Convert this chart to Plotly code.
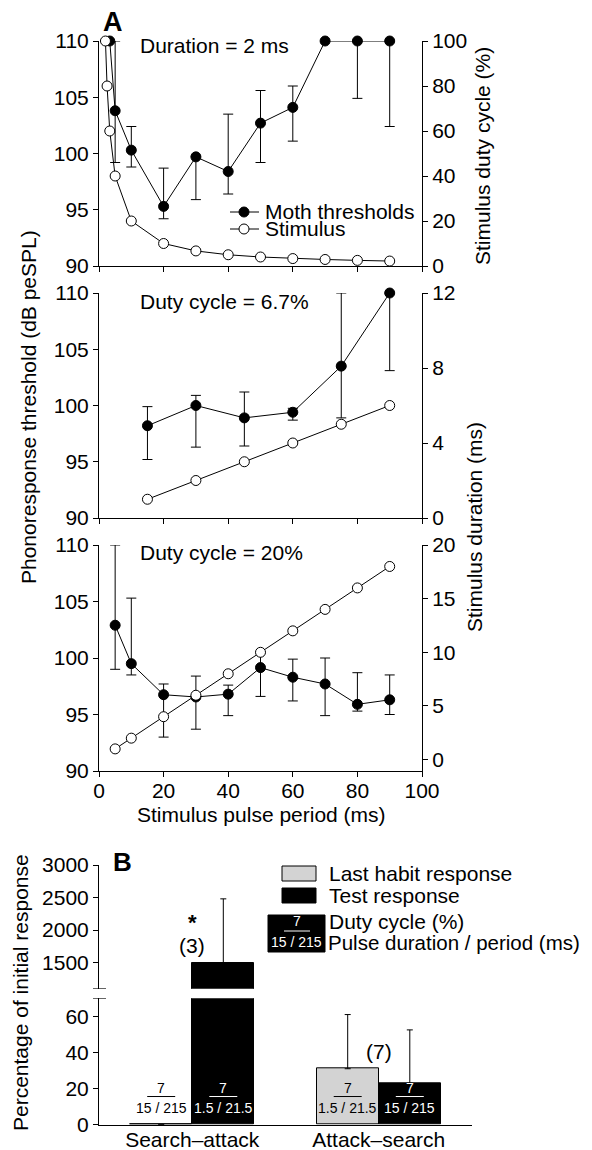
import plotly.graph_objects as go

# ---------------- DATA ----------------
# Panel A, top: duration = 2 ms
a1_period_stim = [2, 2.5, 3.33, 5, 10, 20, 30, 40, 50, 60, 70, 80, 90]
a1_duty = [100, 80, 60, 40, 20, 10, 6.7, 5, 4, 3.3, 2.9, 2.5, 2.2]
a1_period_moth = [3.33, 5, 10, 20, 30, 40, 50, 60, 70, 80, 90]
a1_thresh = [110, 103.8, 100.3, 95.3, 99.7, 98.4, 102.7, 104.1, 110, 110, 110]
a1_lower = [110, 99.2, 98.8, 94.2, 95.9, 96.4, 99.2, 101.1, 110, 104.9, 102.4]
a1_upper = [110, 110, 102.4, 98.7, 99.7, 103.5, 105.6, 106.0, 110, 110, 110]

# Panel A, middle: duty cycle = 6.7 %
a2_period = [15, 30, 45, 60, 75, 90]
a2_duration = [1, 2, 3, 4, 5, 6]
a2_thresh = [98.2, 100.0, 98.9, 99.4, 103.5, 110]
a2_lower = [95.2, 96.3, 96.4, 98.7, 98.9, 103.1]
a2_upper = [99.9, 100.9, 101.2, 99.75, 110, 110]

# Panel A, bottom: duty cycle = 20 %
a3_period = [5, 10, 20, 30, 40, 50, 60, 70, 80, 90]
a3_duration = [1, 2, 4, 6, 8, 10, 12, 14, 16, 18]
a3_thresh = [102.9, 99.5, 96.75, 96.55, 96.8, 99.15, 98.3, 97.7, 95.9, 96.3]
a3_lower = [99.0, 98.5, 93.0, 93.7, 94.9, 96.6, 96.2, 94.9, 95.3, 95.0]
a3_upper = [110, 105.3, 97.7, 98.4, 97.6, 100.5, 99.9, 100.0, 98.7, 98.5]

# Panel B
b_categories = ["Search\u2013attack", "Attack\u2013search"]
b_last_habit = [0, 31]
b_last_habit_upper = [0, 61]
b_test = [1500, 23]
b_test_upper = [2480, 52.5]
b_label_top = ["7", "7"]
b_last_habit_labels = ["15 / 215", "1.5 / 21.5"]
b_test_labels = ["1.5 / 21.5", "15 / 215"]
b_n_labels = ["(3)", "(7)"]

# ---------------- LAYOUT HELPERS ----------------
# The page body has an 8 px margin, so the figure is made 8 px smaller and
# positions are given in window pixels.
OFF = 8
W, H = 592 - OFF, 1150 - OFF
FONT = "Liberation Sans, Arial, Helvetica, sans-serif"
FS = 21


def px(x):
    return (x - OFF) / W


def py(y):
    return 1 - (y - OFF) / H


def plus(vals, upper):
    return [u - v for v, u in zip(vals, upper)]


def minus(vals, lower):
    return [v - l for v, l in zip(vals, lower)]


fig = go.Figure()

filled = dict(mode="lines+markers", line=dict(color="black", width=1),
              marker=dict(size=10, color="black", line=dict(color="black", width=1)),
              cliponaxis=False, showlegend=False)
openm = dict(mode="lines+markers", line=dict(color="black", width=1),
             marker=dict(size=10, color="white", line=dict(color="black", width=1)),
             cliponaxis=False, showlegend=False)


def err(y, lo, up):
    return dict(type="data", symmetric=False, array=plus(y, up), arrayminus=minus(y, lo),
                color="black", thickness=1, width=5)


# Panel A top
fig.add_trace(go.Scatter(x=a1_period_moth, y=a1_thresh, error_y=err(a1_thresh, a1_lower, a1_upper),
                         xaxis="x", yaxis="y", name="Moth thresholds", **filled))
fig.add_trace(go.Scatter(x=a1_period_stim, y=a1_duty, xaxis="x", yaxis="y2", name="Stimulus", **openm))
# Panel A middle
fig.add_trace(go.Scatter(x=a2_period, y=a2_thresh, error_y=err(a2_thresh, a2_lower, a2_upper),
                         xaxis="x2", yaxis="y3", **filled))
fig.add_trace(go.Scatter(x=a2_period, y=a2_duration, xaxis="x2", yaxis="y4", **openm))
# Panel A bottom
fig.add_trace(go.Scatter(x=a3_period, y=a3_thresh, error_y=err(a3_thresh, a3_lower, a3_upper),
                         xaxis="x3", yaxis="y5", **filled))
fig.add_trace(go.Scatter(x=a3_period, y=a3_duration, xaxis="x3", yaxis="y6", **openm))

# Panel B bars (upper and lower segments of broken axis)
BW = 0.333
cat_pos = list(range(len(b_categories)))
for xa, ya in (("x4", "y7"), ("x5", "y8")):
    fig.add_trace(go.Bar(x=cat_pos, y=b_last_habit, width=BW, offset=-BW, xaxis=xa, yaxis=ya,
                         marker=dict(color="#d3d3d3", line=dict(color="black", width=1)),
                         error_y=dict(type="data", symmetric=False, array=plus(b_last_habit, b_last_habit_upper),
                                      arrayminus=[0] * len(b_last_habit), color="black", thickness=1, width=3),
                         showlegend=False, name="Last habit response"))
    fig.add_trace(go.Bar(x=cat_pos, y=b_test, width=BW, offset=0, xaxis=xa, yaxis=ya,
                         marker=dict(color="black", line=dict(color="black", width=1)),
                         error_y=dict(type="data", symmetric=False, array=plus(b_test, b_test_upper),
                                      arrayminus=[0] * len(b_test), color="black", thickness=1, width=3),
                         showlegend=False, name="Test response"))

ax_common = dict(showline=True, linecolor="black", linewidth=1, ticks="outside", ticklen=5,
                 tickcolor="black", tickwidth=1, showgrid=False, zeroline=False, automargin=False,
                 tickfont=dict(family=FONT, size=FS, color="black"))

XA = [px(99), px(422)]
xa_kw = dict(ax_common, domain=XA, range=[0, 100], tickvals=[0, 20, 40, 60, 80, 100])
ya_kw = dict(ax_common, range=[90, 110], tickvals=[90, 95, 100, 105, 110])

fig.update_layout(
    width=W, height=H, margin=dict(l=0, r=0, t=0, b=0, pad=0, autoexpand=False),
    paper_bgcolor="white", plot_bgcolor="white", showlegend=False, bargap=0,
    font=dict(family=FONT, size=FS, color="black"),
    xaxis=dict(xa_kw, anchor="y", showticklabels=False),
    yaxis=dict(ya_kw, domain=[py(266), py(41)], anchor="x"),
    yaxis2=dict(ax_common, overlaying="y", side="right", anchor="x", range=[0, 100],
                tickvals=[0, 20, 40, 60, 80, 100]),
    xaxis2=dict(xa_kw, anchor="y3", showticklabels=False),
    yaxis3=dict(ya_kw, domain=[py(518), py(293)], anchor="x2"),
    yaxis4=dict(ax_common, overlaying="y3", side="right", anchor="x2", range=[0, 12],
                tickvals=[0, 4, 8, 12]),
    xaxis3=dict(xa_kw, anchor="y5", ticklabelstandoff=-4),
    yaxis5=dict(ya_kw, domain=[py(771), py(545)], anchor="x3"),
    yaxis6=dict(ax_common, overlaying="y5", side="right", anchor="x3", range=[-1.06, 20],
                tickvals=[0, 5, 10, 15, 20]),
    xaxis4=dict(domain=[px(99), px(472)], anchor="y7", range=[-0.5, 1.5], visible=False),
    yaxis7=dict(ax_common, domain=[py(988.7), py(865)], anchor="x4", range=[1100, 3000],
                tickvals=[1500, 2000, 2500, 3000]),
    xaxis5=dict(ax_common, domain=[px(99), px(472)], anchor="y8", range=[-0.5, 1.5],
                tickvals=cat_pos, ticktext=b_categories, ticks="", ticklabelstandoff=-4),
    yaxis8=dict(ax_common, domain=[py(1124.7), py(998.3)], anchor="x5", range=[0, 70],
                tickvals=[0, 20, 40, 60]),
)

ann = []
shapes = []


def text(x, y, s, size=FS, xanchor="left", color="black", bold=False, angle=0, height=None):
    a = dict(x=px(x), y=py(y), xref="paper", yref="paper", text=s, showarrow=False,
             xanchor=xanchor, yanchor="middle", textangle=angle, borderpad=0,
             font=dict(family=FONT, size=size, color=color,
                       weight="bold" if bold else "normal"))
    if height:
        a["height"] = height
    ann.append(a)


# Panel labels and titles
text(113, 22, "A", size=27, xanchor="center", bold=True, height=26)
text(122, 862, "B", size=26, xanchor="center", bold=True)
text(139, 45, "Duration = 2 ms")
text(139, 302, "Duty cycle = 6.7%")
text(139, 552, "Duty cycle = 20%")
text(28, 407, "Phonoresponse threshold (dB peSPL)", xanchor="center", angle=-90)
text(482, 156, "Stimulus duty cycle (%)", xanchor="center", angle=-90)
text(474, 527, "Stimulus duration (ms)", xanchor="center", angle=-90)
text(261, 814, "Stimulus pulse period (ms)", xanchor="center")
text(20, 993, "Percentage of initial response", xanchor="center", angle=-90)

# Panel A legend
for yy, fill, lab in ((212, "black", "Moth thresholds"), (229, "white", "Stimulus")):
    shapes.append(dict(type="line", xref="paper", yref="paper", x0=px(230), x1=px(259),
                       y0=py(yy), y1=py(yy), line=dict(color="black", width=1)))
    shapes.append(dict(type="circle", xref="paper", yref="paper", x0=px(239), x1=px(249),
                       y0=py(yy + 5), y1=py(yy - 5), fillcolor=fill,
                       line=dict(color="black", width=1)))
    text(264, yy, lab)

# Panel B legend
for (y0, y1), fill, lab in (((866, 881), "#d3d3d3", "Last habit response"),
                            ((888, 903), "black", "Test response")):
    shapes.append(dict(type="rect", xref="paper", yref="paper", x0=px(282), x1=px(316),
                       y0=py(y1), y1=py(y0), fillcolor=fill, line=dict(color="black", width=1)))
    text(328, (y0 + y1) / 2, lab)
shapes.append(dict(type="rect", xref="paper", yref="paper", x0=px(268), x1=px(325),
                   y0=py(952), y1=py(915), fillcolor="black", line=dict(color="black", width=1)))
text(296.5, 921, "7", size=14, xanchor="center", color="white")
shapes.append(dict(type="line", xref="paper", yref="paper", x0=px(284), x1=px(310),
                   y0=py(931), y1=py(931), line=dict(color="white", width=1)))
text(296.5, 942, "15 / 215", size=14, xanchor="center", color="white")
text(328, 921, "Duty cycle (%)")
text(327, 942, "Pulse duration / period (ms)", size=20.5)

# Broken-axis marks
for yref, yv in (("y7", 1100), ("y8", 70)):
    shapes.append(dict(type="line", xref="paper", yref=yref, x0=px(93), x1=px(106),
                       y0=yv, y1=yv, line=dict(color="black", width=1)))

# Labels inside bars
half = BW / 2
for i, c in enumerate(cat_pos):
    for xc, lab, col in ((c - half, b_last_habit_labels[i], "black"),
                         (c + half, b_test_labels[i], "white")):
        ann.append(dict(x=xc, y=20.2, xref="x5", yref="y8", text=b_label_top[i], showarrow=False,
                        font=dict(family=FONT, size=14, color=col)))
        ann.append(dict(x=xc, y=9.1, xref="x5", yref="y8", text=lab, showarrow=False,
                        font=dict(family=FONT, size=14, color=col)))
        shapes.append(dict(type="line", xref="x5", yref="y8", x0=xc - 0.075, x1=xc + 0.075,
                           y0=15.6, y1=15.6, line=dict(color=col, width=1)))

# Significance / n labels
ann.append(dict(x=cat_pos[0], y=2120, xref="x4", yref="y7", text="*", showarrow=False,
                borderpad=0, font=dict(family=FONT, size=22, color="black", weight="bold")))
ann.append(dict(x=cat_pos[0], y=1760, xref="x4", yref="y7", text=b_n_labels[0], showarrow=False,
                borderpad=0, font=dict(family=FONT, size=FS, color="black")))
ann.append(dict(x=cat_pos[1], y=40.4, xref="x5", yref="y8", text=b_n_labels[1], showarrow=False,
                font=dict(family=FONT, size=FS, color="black")))

fig.update_layout(annotations=ann, shapes=shapes)
fig.write_html("out.html")
